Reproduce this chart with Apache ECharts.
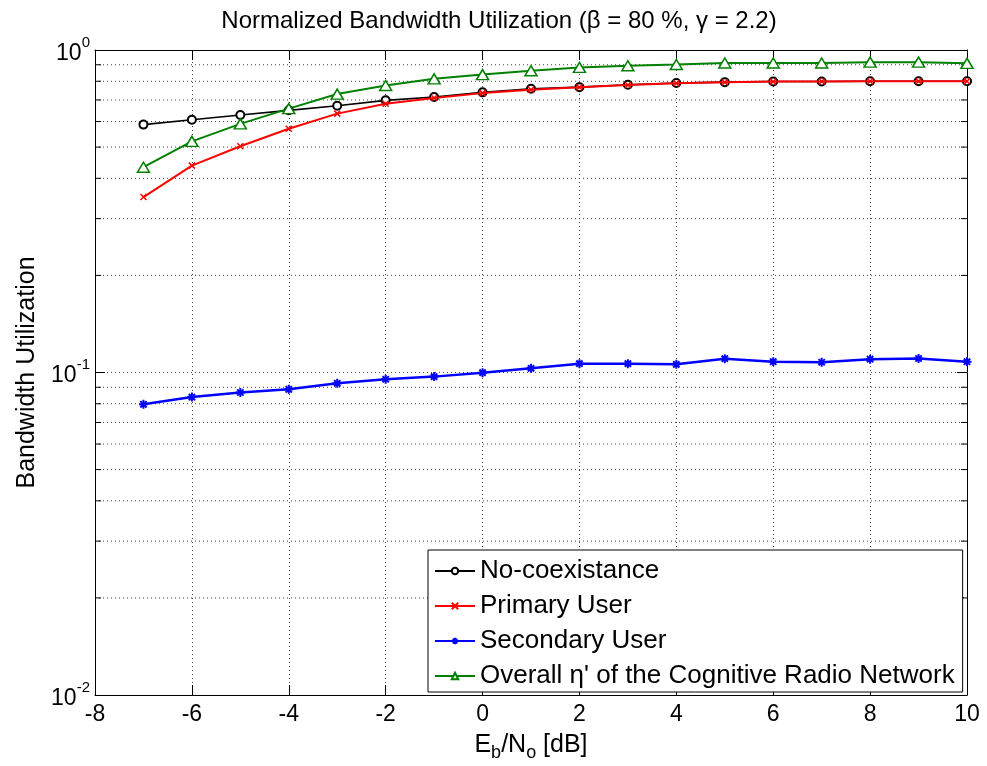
<!DOCTYPE html>
<html>
<head>
<meta charset="utf-8">
<script src="https://cdn.jsdelivr.net/npm/echarts@6/dist/echarts.min.js"></script>
<style>html,body{margin:0;padding:0;background:#fff;}#c{width:987px;height:766px;}</style>
</head>
<body>
<div id="c"></div>
<script>
const ebno = [-7,-6,-5,-4,-3,-2,-1,0,1,2,3,4,5,6,7,8,9,10];
const noCoexistence = [0.587,0.608,0.629,0.650,0.672,0.698,0.715,0.739,0.758,0.767,0.780,0.790,0.795,0.799,0.799,0.800,0.800,0.800];
const primaryUser = [0.350,0.438,0.503,0.570,0.635,0.681,0.710,0.735,0.753,0.766,0.779,0.789,0.794,0.798,0.799,0.800,0.800,0.800];
const secondaryUser = [0.0797,0.0839,0.0867,0.0887,0.0926,0.0953,0.0971,0.0999,0.103,0.1065,0.1065,0.106,0.1104,0.108,0.1076,0.110,0.1105,0.108];
const overall = [0.433,0.521,0.590,0.658,0.730,0.776,0.814,0.839,0.862,0.883,0.894,0.902,0.911,0.911,0.911,0.917,0.917,0.909];
const xTicks = [-8,-6,-4,-2,0,2,4,6,8,10];
const yTickExponents = [-2,-1,0];
const yMinorValues = [0.02,0.03,0.04,0.05,0.06,0.07,0.08,0.09,0.2,0.3,0.4,0.5,0.6,0.7,0.8,0.9];
const seriesNames = ['No-coexistance','Primary User','Secondary User',"Overall \u03b7' of the Cognitive Radio Network"];

const pair = arr => ebno.map((x,i)=>[x,arr[i]]);
const font = 'Liberation Sans, Arial, sans-serif';
const xMin = xTicks[0], xMax = xTicks[xTicks.length-1];
const yMin = Math.pow(10, yTickExponents[0]), yMax = Math.pow(10, yTickExponents[yTickExponents.length-1]);

const chart = echarts.init(document.getElementById('c'), null, {renderer:'canvas'});
const gridLine = {show:true, lineStyle:{color:'#444', type:[1,3], width:1}};
const option = {
  backgroundColor:'#fff',
  animation:false,
  title:{text:'Normalized Bandwidth Utilization (\u03b2 = 80 %, \u03b3 = 2.2)', left:494, textAlign:'center', top:4,
    textStyle:{fontFamily:font, fontSize:24, fontWeight:'normal', color:'#000'}},
  grid:{left:95, right:20, top:50, bottom:71, outerBoundsMode:'none', containLabel:false},
  legend:{
    data:seriesNames, orient:'vertical', left:428, top:550,
    backgroundColor:'#fff', borderColor:'#000', borderWidth:1, padding:[8,8,3,6],
    itemGap:9, itemWidth:40, itemHeight:8,
    textStyle:{fontFamily:font, fontSize:26, lineHeight:26, color:'#000'}
  },
  xAxis:[{
    type:'value', min:xMin, max:xMax, interval:2, position:'bottom',
    axisLine:{show:true, onZero:false, lineStyle:{color:'#000', width:1}},
    axisTick:{show:true, inside:true, length:10, lineStyle:{color:'#000'}},
    axisLabel:{fontFamily:font, fontSize:23, color:'#000', margin:8},
    splitLine:gridLine,
    name:'E{sub|b}/N{sub|o} [dB]', nameLocation:'middle', nameGap:33,
    nameTextStyle:{fontFamily:font, fontSize:25, color:'#000',
      rich:{sub:{fontFamily:font, fontSize:18, color:'#000', verticalAlign:'bottom', padding:[16,0,0,0]}}}
  },{
    type:'value', min:xMin, max:xMax, interval:2, position:'top',
    axisLine:{show:true, onZero:false, lineStyle:{color:'#000', width:1}},
    axisTick:{show:true, inside:true, length:10, lineStyle:{color:'#000'}},
    axisLabel:{show:false}, splitLine:{show:false}
  }],
  yAxis:[{
    type:'log', logBase:10, min:yMin, max:yMax, position:'left',
    axisLine:{show:true, onZero:false, lineStyle:{color:'#000', width:1}},
    axisTick:{show:true, inside:true, length:10, lineStyle:{color:'#000'}},
    axisLabel:{fontFamily:font, fontSize:23, color:'#000', margin:5,
      formatter:v=>{const e=Math.round(Math.log10(v)); return '{b|10}{s|'+e+'}';},
      rich:{b:{fontFamily:font, fontSize:23, color:'#000', lineHeight:30, verticalAlign:'bottom'},
            s:{fontFamily:font, fontSize:15, color:'#000', lineHeight:30, verticalAlign:'top'}}},
    splitLine:gridLine,
    name:'Bandwidth Utilization', nameLocation:'middle', nameGap:55,
    nameTextStyle:{fontFamily:font, fontSize:25, color:'#000'}
  },{
    type:'log', logBase:10, min:yMin, max:yMax, position:'right',
    axisLine:{show:true, onZero:false, lineStyle:{color:'#000', width:1}},
    axisTick:{show:true, inside:true, length:10, lineStyle:{color:'#000'}},
    axisLabel:{show:false}, splitLine:{show:false}
  }],
  series:[
    {type:'custom', name:'minor', silent:true, z:1, xAxisIndex:0, yAxisIndex:0,
     data:yMinorValues.map(v=>[xMin,v]),
     renderItem:(params,api)=>{
       const v = api.value(1);
       const p1 = api.coord([xMin,v]), p2 = api.coord([xMax,v]);
       return {type:'group', children:[
         {type:'line', shape:{x1:p1[0],y1:p1[1],x2:p2[0],y2:p2[1]}, style:{stroke:'#444', lineWidth:1, lineDash:[1,3]}},
         {type:'line', shape:{x1:p1[0],y1:p1[1],x2:p1[0]+6,y2:p1[1]}, style:{stroke:'#000', lineWidth:1}},
         {type:'line', shape:{x1:p2[0]-6,y1:p2[1],x2:p2[0],y2:p2[1]}, style:{stroke:'#000', lineWidth:1}}
       ]};
     }},
    {type:'line', name:seriesNames[0], data:pair(noCoexistence), z:3,
     symbol:'emptyCircle', symbolSize:8,
     lineStyle:{color:'#000', width:1.6}, itemStyle:{color:'#000', borderColor:'#000', borderWidth:1.5}},
    {type:'line', name:seriesNames[1], data:pair(primaryUser), z:4,
     symbol:'path://M0,0L10,10M10,0L0,10', symbolSize:6,
     lineStyle:{color:'#ff0000', width:2}, itemStyle:{color:'#ff0000', borderColor:'#ff0000', borderWidth:1.5}},
    {type:'line', name:seriesNames[2], data:pair(secondaryUser), z:3,
     symbol:'path://M5,0L5,10M0,5L10,5M1.5,1.5L8.5,8.5M8.5,1.5L1.5,8.5', symbolSize:9,
     lineStyle:{color:'#0000ff', width:2.5}, itemStyle:{color:'#0000ff', borderColor:'#0000ff', borderWidth:2}},
    {type:'line', name:seriesNames[3], data:pair(overall), z:3,
     symbol:'triangle', symbolSize:[12,10],
     lineStyle:{color:'#008000', width:2}, itemStyle:{color:'#fff', borderColor:'#008000', borderWidth:1.5}}
  ]
};
chart.setOption(option);
</script>
</body>
</html>
